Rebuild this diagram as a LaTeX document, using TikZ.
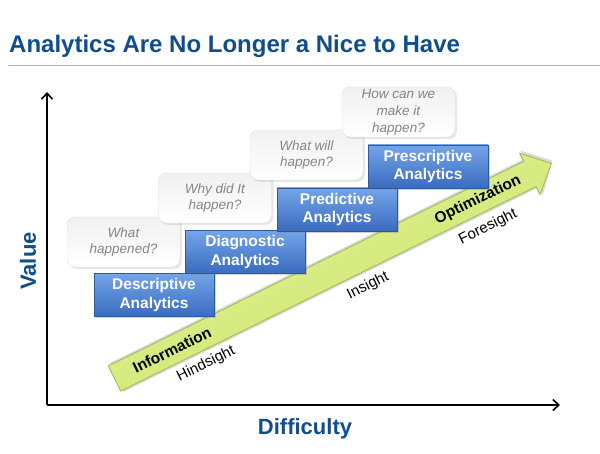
\documentclass[tikz,border=0pt]{standalone}
\usepackage{fontspec}
\setmainfont{Liberation Sans}
\usetikzlibrary{arrows.meta,shadows}
\definecolor{titleblue}{HTML}{0F4D8C}
\definecolor{boxtop}{HTML}{74A5E8}
\definecolor{boxbot}{HTML}{3A6BC0}
\definecolor{boxline}{HTML}{2E5A9E}
\definecolor{qtext}{HTML}{858585}
\definecolor{qfill}{HTML}{F1F1F1}
\definecolor{arrowtop}{HTML}{E8F69C}
\definecolor{arrowbot}{HTML}{C6E066}
\definecolor{arrowline}{HTML}{9BBB52}
\definecolor{rulecol}{HTML}{A9B4C2}
\tikzset{
  bluebox/.style={draw=boxline, line width=0.8pt, top color=boxtop, bottom color=boxbot,
    minimum width=120pt, minimum height=43pt, inner sep=0pt, align=center, text=white,
    font=\fontsize{15.5}{18.5}\selectfont\bfseries,
    drop shadow={shadow xshift=2pt, shadow yshift=-2pt, opacity=0.35}},
  qbox/.style={rounded corners=8pt, top color=qfill, bottom color=white, draw=white!88!black, line width=0.4pt,
    minimum width=113pt, minimum height=50pt, inner sep=0pt, align=center, text=qtext,
    font=\fontsize{13.5}{16.8}\selectfont\itshape,
    drop shadow={shadow xshift=2pt, shadow yshift=-2pt, opacity=0.18}},
  axisline/.style={line width=1.6pt, -{Straight Barb[length=6pt,width=11pt,line width=1.6pt]}},
  arrowlab/.style={rotate=26.2, font=\fontsize{15.5}{18}\selectfont\bfseries, inner sep=0pt},
  arrowsub/.style={rotate=26.2, font=\fontsize{15}{18}\selectfont, inner sep=0pt},
  axislab/.style={text=titleblue, font=\fontsize{22}{26}\selectfont\bfseries, inner sep=0pt}
}
\begin{document}
\begin{tikzpicture}[x=1pt,y=-1pt]
\useasboundingbox (0,0) rectangle (600,454);
\fill[white] (0,0) rectangle (600,454);
% title
\node[anchor=base west, inner sep=0pt, text=titleblue, font=\fontsize{24}{28}\selectfont\bfseries] (title) at (9,53) {Analytics Are No Longer a Nice to Have};
\coordinate (r1) at (8,66);
\coordinate (r2) at (600,66);
\draw[rulecol, line width=1pt] (r1) -- (r2);
% axes
\coordinate (origin) at (47,405);
\coordinate (ytip) at (47,92);
\coordinate (xtip) at (560,405);
\draw[axisline] (origin) -- (ytip);
\draw[axisline] (origin) -- (xtip);
\node[axislab, rotate=90] (value) at (28,261) {Value};
\node[axislab, anchor=base] (difficulty) at (305,435) {Difficulty};
% green arrow
\begin{scope}[shift={(114.5,378.5)}, rotate=26.22]
  \fill[black, opacity=0.15] (2,-16) -- (465,-16) -- (465,-25) -- (489,-2) -- (465,25) -- (465,16) -- (2,16) -- cycle;
  \draw[arrowline, line width=0.8pt, top color=arrowtop, bottom color=arrowbot, shading angle=26.22]
    (0,-14) -- (463,-14) -- (463,-23) -- (487,0) -- (463,23) -- (463,14) -- (0,14) -- cycle;
\end{scope}
\node[arrowlab] (info) at (172,350) {Information};
\node[arrowlab] (opt) at (478,200) {Optimization};
\node[arrowsub] (hind) at (206,364) {Hindsight};
\node[arrowsub] (ins) at (368,286) {Insight};
\node[arrowsub] (fore) at (488,227) {Foresight};
% question boxes
\node[qbox] (q1) at (123.5,242) {What\\happened?};
\node[qbox] (q2) at (215,198) {Why did It\\happen?};
\node[qbox] (q3) at (306.5,155) {What will\\happen?};
\node[qbox] (q4) at (398.5,112) {How can we\\make it\\happen?};
% blue boxes
\node[bluebox] (desc) at (154,295) {Descriptive\\Analytics};
\node[bluebox] (diag) at (245,252) {Diagnostic\\Analytics};
\node[bluebox] (pred) at (337,209.5) {Predictive\\Analytics};
\node[bluebox] (pres) at (428,166.5) {Prescriptive\\Analytics};
\end{tikzpicture}
\end{document}
